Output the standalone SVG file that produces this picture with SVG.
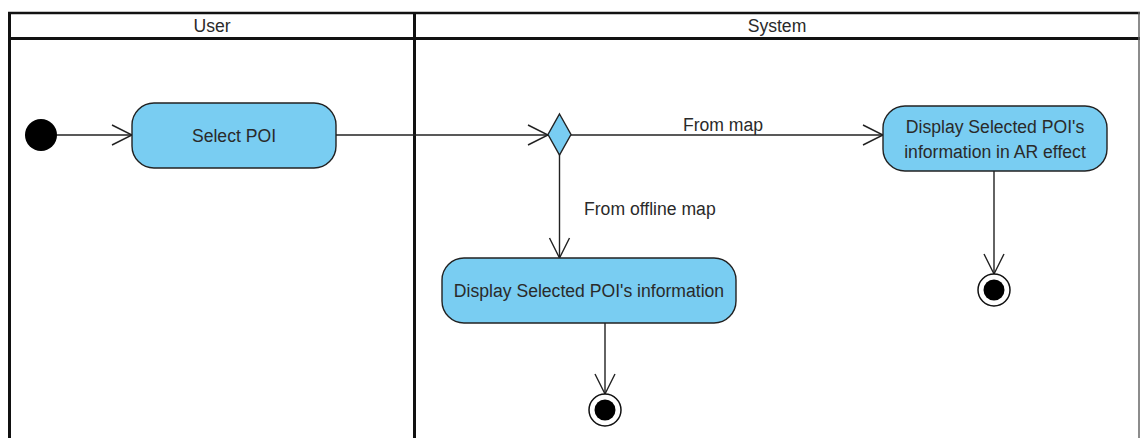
<svg xmlns="http://www.w3.org/2000/svg" width="1141" height="438" viewBox="0 0 1141 438">
  <defs>
    <marker id="open" viewBox="0 0 24 24" refX="22" refY="12" markerWidth="24" markerHeight="24" markerUnits="userSpaceOnUse" orient="auto">
      <path d="M2,2 L22,12 L2,22" fill="none" stroke="#222" stroke-width="1.4"/>
    </marker>
  </defs>
  <style>
    text { font-family: "Liberation Sans", Arial, sans-serif; font-size: 17.6px; fill: #2a2a2a; }
    .act { fill: #79cdf2; stroke: #222; stroke-width: 1.4; }
    .edge { fill: none; stroke: #222; stroke-width: 1.4; }
    .lane { stroke: #111; fill: none; }
  </style>
  <rect width="1141" height="438" fill="#fff"/>

  <g id="swimlanes">
    <line class="lane" x1="8" y1="13" x2="1140" y2="13" stroke-width="2.5"/>
    <line class="lane" x1="8" y1="38.5" x2="1140" y2="38.5" stroke-width="3"/>
    <line class="lane" x1="9.5" y1="12" x2="9.5" y2="438" stroke-width="3"/>
    <line class="lane" x1="414.5" y1="12" x2="414.5" y2="438" stroke-width="3"/>
    <line x1="1139" y1="12" x2="1139" y2="438" stroke="#666" stroke-width="1.5"/>
    <text x="212" y="32" text-anchor="middle">User</text>
    <text x="777" y="32" text-anchor="middle">System</text>
  </g>

  <g id="connectors">
    <line class="edge" x1="57" y1="135" x2="132" y2="135" marker-end="url(#open)"/>
    <line class="edge" x1="336" y1="135" x2="548" y2="135" marker-end="url(#open)"/>
    <line class="edge" x1="571" y1="135" x2="883" y2="135" marker-end="url(#open)"/>
    <text x="723" y="131" text-anchor="middle">From map</text>
    <line class="edge" x1="559.5" y1="154" x2="559.5" y2="258" marker-end="url(#open)"/>
    <text x="584" y="215">From offline map</text>
    <line class="edge" x1="605" y1="323" x2="605" y2="394" marker-end="url(#open)"/>
    <line class="edge" x1="994" y1="171" x2="994" y2="274" marker-end="url(#open)"/>
  </g>

  <g id="initial">
    <circle cx="41" cy="135" r="16" fill="#000"/>
  </g>

  <g id="select-poi">
    <rect class="act" x="132" y="103" width="204" height="65" rx="22" ry="22"/>
    <text x="234" y="142" text-anchor="middle">Select POI</text>
  </g>

  <g id="decision">
    <polygon class="act" points="559.5,114 571,134.5 559.5,155 548,134.5"/>
  </g>

  <g id="display-ar">
    <rect class="act" x="883" y="106" width="224" height="65" rx="22" ry="22"/>
    <text x="995" y="133" text-anchor="middle">Display Selected POI's</text>
    <text x="995" y="158" text-anchor="middle">information in AR effect</text>
  </g>

  <g id="display-info">
    <rect class="act" x="442" y="258" width="294" height="65" rx="22" ry="22"/>
    <text x="589" y="297" text-anchor="middle">Display Selected POI's information</text>
  </g>

  <g id="final-ar">
    <circle cx="994" cy="290" r="16" fill="#fff" stroke="#111" stroke-width="1.5"/>
    <circle cx="994" cy="290" r="10.5" fill="#000"/>
  </g>

  <g id="final-info">
    <circle cx="605" cy="410" r="16" fill="#fff" stroke="#111" stroke-width="1.5"/>
    <circle cx="605" cy="410" r="10.5" fill="#000"/>
  </g>
</svg>
